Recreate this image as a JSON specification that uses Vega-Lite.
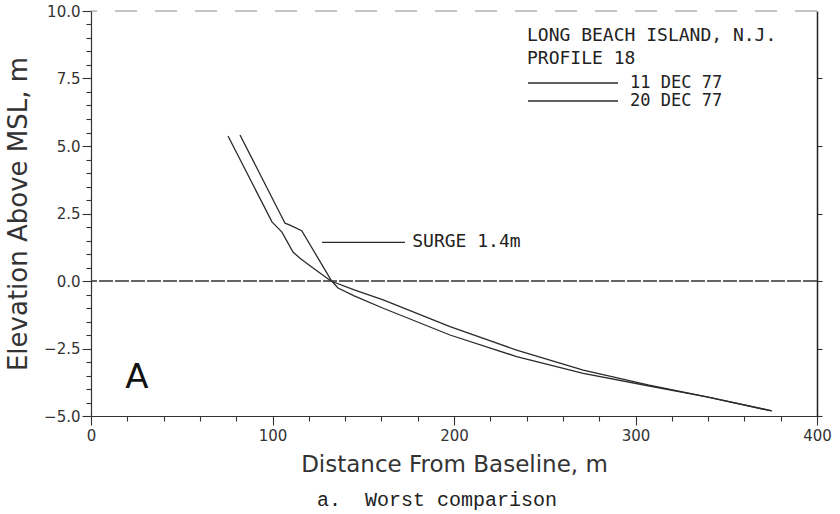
{
  "$schema": "https://vega.github.io/schema/vega-lite/v6.json",
  "width": 726,
  "height": 405,
  "autosize": "none",
  "padding": {"left": 91, "top": 11, "right": 23, "bottom": 98},
  "background": "white",
  "config": {
    "view": {"stroke": null},
    "axis": {
      "domainColor": "#333",
      "domainWidth": 1.2,
      "tickColor": "#333",
      "tickWidth": 1.1,
      "labelFont": "DejaVu Sans",
      "labelFontSize": 15,
      "labelColor": "#333",
      "titleFont": "DejaVu Sans",
      "titleFontSize": 23,
      "titleFontWeight": "normal",
      "titleColor": "#333",
      "grid": false
    }
  },
  "title": {
    "text": "a.\u00a0 Worst comparison",
    "orient": "bottom",
    "font": "Liberation Mono",
    "fontSize": 20,
    "fontWeight": "normal",
    "color": "#222",
    "offset": 14,
    "dx": -17
  },
  "datasets": {
    "profiles": [
      {"date": "11 DEC 77", "dist": 75.5, "elev": 5.37},
      {"date": "11 DEC 77", "dist": 99.7, "elev": 2.19},
      {"date": "11 DEC 77", "dist": 105.2, "elev": 1.81},
      {"date": "11 DEC 77", "dist": 111.3, "elev": 1.07},
      {"date": "11 DEC 77", "dist": 115.0, "elev": 0.85},
      {"date": "11 DEC 77", "dist": 119.0, "elev": 0.65},
      {"date": "11 DEC 77", "dist": 125.0, "elev": 0.35},
      {"date": "11 DEC 77", "dist": 132.2, "elev": 0.0},
      {"date": "11 DEC 77", "dist": 145.0, "elev": -0.33},
      {"date": "11 DEC 77", "dist": 161.0, "elev": -0.70},
      {"date": "11 DEC 77", "dist": 197.8, "elev": -1.69},
      {"date": "11 DEC 77", "dist": 234.5, "elev": -2.56},
      {"date": "11 DEC 77", "dist": 271.2, "elev": -3.30},
      {"date": "11 DEC 77", "dist": 306.9, "elev": -3.85},
      {"date": "11 DEC 77", "dist": 340.0, "elev": -4.30},
      {"date": "11 DEC 77", "dist": 375.0, "elev": -4.81},
      {"date": "20 DEC 77", "dist": 82.1, "elev": 5.41},
      {"date": "20 DEC 77", "dist": 106.9, "elev": 2.14},
      {"date": "20 DEC 77", "dist": 109.6, "elev": 2.07},
      {"date": "20 DEC 77", "dist": 116.1, "elev": 1.86},
      {"date": "20 DEC 77", "dist": 132.6, "elev": 0.0},
      {"date": "20 DEC 77", "dist": 136.1, "elev": -0.26},
      {"date": "20 DEC 77", "dist": 145.0, "elev": -0.55},
      {"date": "20 DEC 77", "dist": 161.0, "elev": -1.01},
      {"date": "20 DEC 77", "dist": 197.8, "elev": -2.00},
      {"date": "20 DEC 77", "dist": 234.5, "elev": -2.80},
      {"date": "20 DEC 77", "dist": 271.2, "elev": -3.42},
      {"date": "20 DEC 77", "dist": 306.9, "elev": -3.88},
      {"date": "20 DEC 77", "dist": 340.0, "elev": -4.30},
      {"date": "20 DEC 77", "dist": 375.0, "elev": -4.81}
    ]
  },
  "resolve": {"axis": {"y": "independent"}},
  "layer": [
    {
      "data": {"values": [{}]},
      "mark": {"type": "rule", "color": "#888", "strokeDash": [22, 18], "strokeWidth": 1},
      "encoding": {
        "y": {
          "datum": 10,
          "type": "quantitative",
          "scale": {"domain": [-5, 10], "nice": false},
          "axis": {
            "orient": "right",
            "title": null,
            "labels": false,
            "values": [-5, -2.5, 0, 2.5, 5, 7.5],
            "tickCount": 100,
            "tickSize": 5,
            "domainWidth": 1.5,
            "domainColor": "#222"
          }
        }
      }
    },
    {
      "data": {"name": "profiles"},
      "mark": {"type": "line", "strokeWidth": 1.3, "interpolate": "linear"},
      "encoding": {
        "x": {
          "field": "dist",
          "type": "quantitative",
          "scale": {"domain": [0, 400], "nice": false},
          "axis": {
            "title": "Distance From Baseline, m",
            "values": [0, 20, 40, 60, 80, 100, 120, 140, 160, 180, 200, 220, 240, 260, 280, 300, 320, 340, 360, 380, 400],
            "tickCount": 100,
            "labelExpr": "datum.value % 100 === 0 ? datum.label : ''",
            "labelOverlap": false,
            "labelFlush": false,
            "tickSize": {"condition": {"test": "datum.value % 100 === 0", "value": 9}, "value": 5},
            "labelPadding": 3,
            "titlePadding": 10
          }
        },
        "y": {
          "field": "elev",
          "type": "quantitative",
          "scale": {"domain": [-5, 10], "nice": false},
          "axis": {
            "orient": "left",
            "title": "Elevation Above MSL, m",
            "titleFontSize": 26,
            "values": [-5, -4.5, -4, -3.5, -3, -2.5, -2, -1.5, -1, -0.5, 0, 0.5, 1, 1.5, 2, 2.5, 3, 3.5, 4, 4.5, 5, 5.5, 6, 6.5, 7, 7.5, 8, 8.5, 9, 9.5, 10],
            "tickCount": 100,
            "labelExpr": "(datum.value * 2) % 5 === 0 ? format(datum.value, '.1f') : ''",
            "labelOverlap": false,
            "labelFlush": false,
            "tickSize": {"condition": {"test": "(datum.value * 2) % 5 === 0", "value": 9}, "value": 5},
            "labelPadding": 2,
            "titlePadding": 12
          }
        },
        "color": {
          "field": "date",
          "type": "nominal",
          "scale": {"range": ["#2b2b2b", "#2b2b2b"]},
          "legend": {
            "orient": "none",
            "legendX": 436,
            "legendY": 16,
            "padding": 0,
            "title": ["LONG BEACH ISLAND, N.J.", "PROFILE 18"],
            "titleFont": "DejaVu Sans Mono",
            "titleFontSize": 18,
            "titleFontWeight": "normal",
            "titleColor": "#222",
            "titleLineHeight": 23,
            "titlePadding": 6,
            "titleLimit": 500,
            "labelLimit": 300,
            "labelFont": "DejaVu Sans Mono",
            "labelFontSize": 17,
            "labelColor": "#222",
            "labelOffset": 11,
            "symbolType": "stroke",
            "symbolSize": 8100,
            "symbolStrokeWidth": 1.3,
            "clipHeight": 18,
            "rowPadding": 0
          }
        }
      }
    },
    {
      "data": {"values": [{}]},
      "mark": {"type": "rule", "color": "#333", "strokeWidth": 1.3, "strokeDash": [14, 2]},
      "encoding": {"y": {"datum": 0, "type": "quantitative", "axis": null}}
    },
    {
      "data": {"values": [{}]},
      "mark": {"type": "rule", "color": "#2b2b2b", "strokeWidth": 1.3},
      "encoding": {
        "x": {"datum": 127.3, "type": "quantitative"},
        "x2": {"datum": 173},
        "y": {"datum": 1.43, "type": "quantitative", "axis": null}
      }
    },
    {
      "data": {"values": [{}]},
      "mark": {"type": "text", "font": "DejaVu Sans Mono", "fontSize": 18, "color": "#222", "align": "left", "baseline": "middle"},
      "encoding": {
        "x": {"datum": 177, "type": "quantitative"},
        "y": {"datum": 1.45, "type": "quantitative", "axis": null},
        "text": {"value": "SURGE 1.4m"}
      }
    },
    {
      "data": {"values": [{}]},
      "mark": {"type": "text", "font": "DejaVu Sans", "fontSize": 34, "color": "#111", "align": "center", "baseline": "alphabetic"},
      "encoding": {
        "x": {"datum": 25.3, "type": "quantitative"},
        "y": {"datum": -3.96, "type": "quantitative", "axis": null},
        "text": {"value": "A"}
      }
    }
  ]
}
